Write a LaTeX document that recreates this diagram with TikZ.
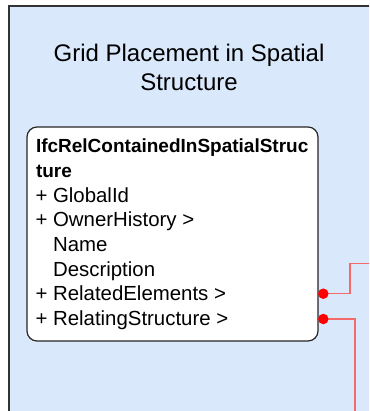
\documentclass[tikz,border=0pt]{standalone}
\usepackage{fontspec}
\setmainfont{Liberation Sans}
\definecolor{zonefill}{HTML}{DAE8FC}
\definecolor{zonedraw}{HTML}{333333}
\definecolor{linkred}{HTML}{F46A6A}
\begin{document}
\begin{tikzpicture}[x=1pt, y=-1pt,
    zone/.style={draw=zonedraw, fill=zonefill, line width=1.3pt},
    titletext/.style={anchor=base, inner sep=0pt, font=\fontsize{24}{29}\selectfont},
    classbox/.style={draw=black!85, fill=white, line width=1.2pt, rounded corners=10pt,
      minimum width=291pt, minimum height=214pt, inner sep=0pt},
    rowtext/.style={anchor=base west, inner sep=0pt, font=\fontsize{20.4}{24}\selectfont},
    headtext/.style={anchor=base west, inner sep=0pt, font=\fontsize{19}{24}\selectfont\bfseries},
    relline/.style={draw=linkred, line width=1.3pt},
    reldot/.style={fill=red, circle, inner sep=0pt, minimum size=10.5pt}]
  \useasboundingbox (0,0) rectangle (369,411);
  \clip (0,0) rectangle (369,411);
  \draw[zone] (9,6) rectangle (380,420);
  \node[titletext] (title) at (189,61.7) {Grid Placement in Spatial};
  \node[titletext] (title2) at (189,91) {Structure};
  \node[classbox] (rel) at (172.5,234) {};
  \node[headtext] (head1) at (35.8,153) {IfcRelContainedInSpatialStruc};
  \node[headtext] (head2) at (35.8,177.6) {ture};
  \foreach \txt [count=\i from 0] in {+ GlobalId, + OwnerHistory >, \hphantom{+ }Name,
      \hphantom{+ }Description, + RelatedElements >, + RelatingStructure >}
    \node[rowtext] (row\i) at (35.3,202.2+24.6*\i) {\txt};
  \coordinate (bendA) at (350,263.3);
  \coordinate (outA) at (372,263.3);
  \coordinate (outB) at (355,414);
  \draw[relline] (323.3,293.7) node[reldot] (dotA) {} -| (bendA) -- (outA);
  \draw[relline] (323.3,319) node[reldot] (dotB) {} -| (outB);
\end{tikzpicture}
\end{document}
